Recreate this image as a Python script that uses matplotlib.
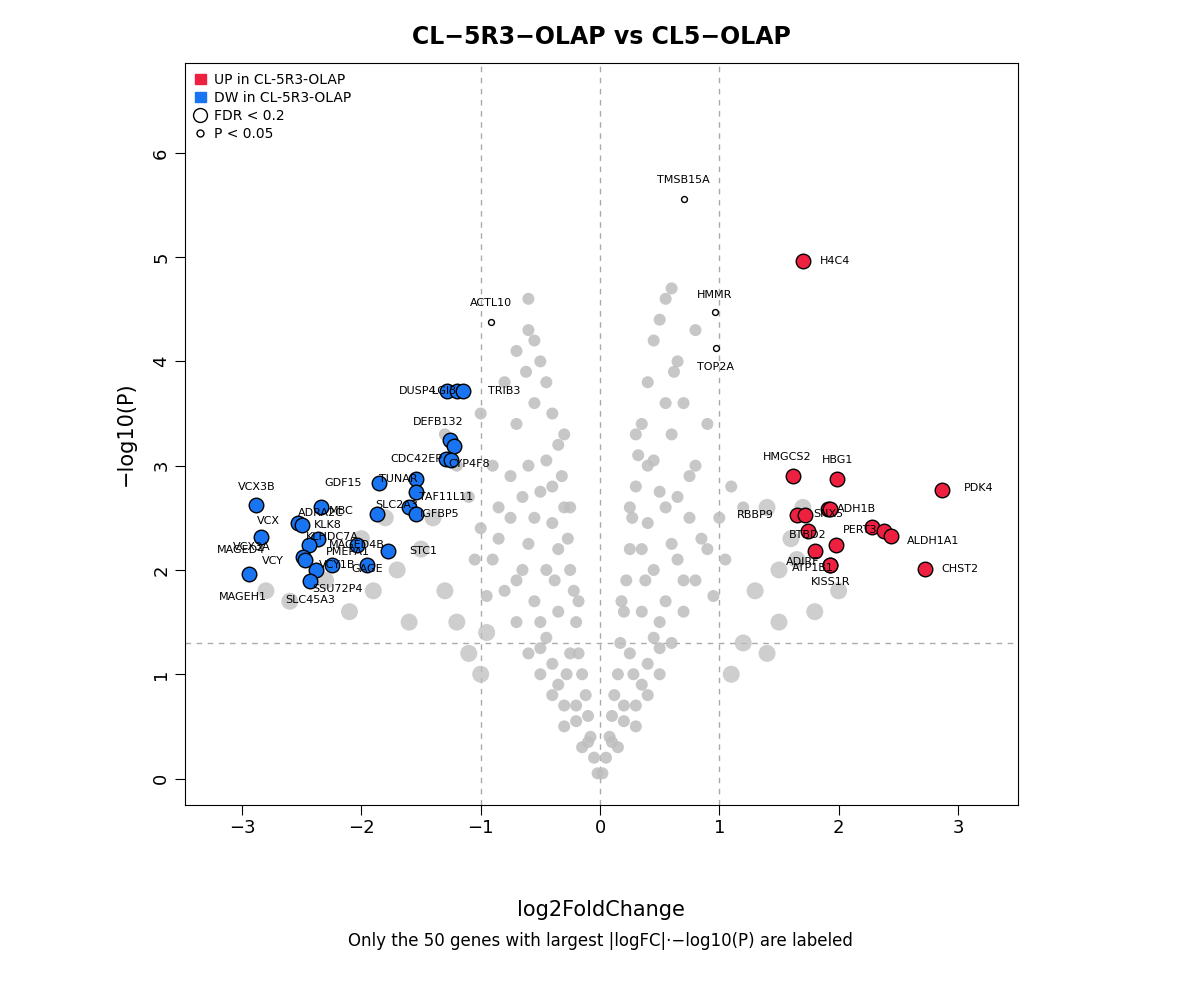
import matplotlib.pyplot as plt
from matplotlib.lines import Line2D
from matplotlib.patches import Patch

# grey (not significant) genes
grey_x = [-0.02, -0.05, -0.08, -0.1, -0.12, -0.15, -0.18, -0.2, -0.22, -0.25, -0.27, -0.3, -0.32, -0.35,
          -0.4, -0.45, -0.55, -0.6, -0.6, -0.5, -0.3, -0.4, -0.5, -0.6, -0.7, -0.8, -0.9, -1.0, -1.1, -1.2,
          -1.3, -0.9, -0.7, -0.55, -0.45, -0.35, -0.25, -0.5, -0.65, -0.75, -0.85, -0.4, -0.6, -0.8, -1.0,
          -0.7, -0.15, -0.35, -0.2,
          -0.1, -0.2, -0.3, -0.4, -0.45, -0.55, -0.35, -0.25, -0.4, -0.5, -0.6, -0.7, -0.3, -0.45, -0.65,
          -0.55, -0.75, -0.85, -0.95, -1.05, -0.5, -0.38, -0.28, -0.18, -0.62,
          0.02, 0.05, 0.08, 0.1, 0.12, 0.15, 0.17, 0.2, 0.22, 0.25, 0.27, 0.3, 0.32, 0.35, 0.4, 0.45, 0.55,
          0.6, 0.5, 0.3, 0.4, 0.5, 0.6, 0.7, 0.8, 0.9, 1.0, 1.1, 1.2, 0.8, 0.7, 0.55, 0.45, 0.35, 0.25, 0.5,
          0.65, 0.75, 0.4, 0.6, 0.9, 0.65, 0.15, 0.35, 0.2, 0.8,
          0.1, 0.2, 0.3, 0.4, 0.45, 0.55, 0.35, 0.25, 0.4, 0.5, 0.6, 0.7, 0.3, 0.45, 0.65,
          0.55, 0.75, 0.85, 0.95, 1.05, 0.5, 0.38, 0.28, 0.18, 0.62]
grey_y = [0.05, 0.2, 0.4, 0.6, 0.8, 1.0, 1.2, 1.5, 1.8, 2.0, 2.3, 2.6, 2.9, 3.2, 3.5, 3.8, 4.2, 4.6, 4.3,
          4.0, 0.5, 0.8, 1.0, 1.2, 1.5, 1.8, 2.1, 2.4, 2.7, 3.0, 3.3, 3.0, 3.4, 2.5, 2.0, 1.6, 1.2, 1.5, 2.0,
          2.5, 2.6, 2.8, 3.0, 3.8, 3.5, 4.1, 0.3, 0.9, 0.7,
          0.35, 0.55, 0.7, 1.1, 1.35, 1.7, 2.2, 2.6, 2.45, 2.75, 2.25, 1.9, 3.3, 3.05, 2.7,
          3.6, 2.9, 2.3, 1.75, 2.1, 1.25, 1.9, 1.0, 1.7, 3.9,
          0.05, 0.2, 0.4, 0.6, 0.8, 1.0, 1.3, 1.6, 1.9, 2.2, 2.5, 2.8, 3.1, 3.4, 3.8, 4.2, 4.6, 4.7, 4.4,
          0.5, 0.8, 1.0, 1.3, 1.6, 1.9, 2.2, 2.5, 2.8, 2.6, 3.0, 3.6, 2.6, 2.0, 1.6, 1.2, 1.5, 2.1, 2.5,
          3.0, 3.3, 3.4, 4.0, 0.3, 0.9, 0.7, 4.3,
          0.35, 0.55, 0.7, 1.1, 1.35, 1.7, 2.2, 2.6, 2.45, 2.75, 2.25, 1.9, 3.3, 3.05, 2.7,
          3.6, 2.9, 2.3, 1.75, 2.1, 1.25, 1.9, 1.0, 1.7, 3.9]
big_grey_x = [-1.5, -1.7, -1.9, -2.1, -1.3, -1.6, -2.3, -2.6, -1.4, -2.0, -1.2, -1.1, -1.8, -2.8, -1.0, -0.95,
              1.3, 1.5, 1.6, 1.4, 1.8, 1.2, 1.1, 1.7, 1.5, 2.0, 1.4, 1.65]
big_grey_y = [2.2, 2.0, 1.8, 1.6, 1.8, 1.5, 1.9, 1.7, 2.5, 2.3, 1.5, 1.2, 2.5, 1.8, 1.0, 1.4,
              1.8, 2.0, 2.3, 2.6, 1.6, 1.3, 1.0, 2.6, 1.5, 1.8, 1.2, 2.1]

# down-regulated, FDR < 0.2
dw_genes = ["DUSP4", "LGI3", "TRIB3", "DEFB132", "", "CDC42EP", "CYP4F8", "TUNAR", "TAF11L11", "GDF15",
            "ADRA2C", "MBC", "SLC2A3", "IGFBP5", "VCX3B", "VCX", "KLK8", "MAGED4", "PMEPA1", "KLHDC7A",
            "MAGED4B", "STC1", "VCY", "VCX3A", "VCY1B", "", "GAGE", "MAGEH1", "SLC45A3"]
dw_x = [-1.28, -1.20, -1.15, -1.26, -1.22, -1.29, -1.25, -1.54, -1.54, -1.85,
        -2.34, -1.87, -1.60, -1.54, -2.88, -2.53, -2.50, -2.84, -2.36, -2.44,
        -2.04, -1.78, -2.49, -2.47, -2.25, -2.38, -1.95, -2.94, -2.43]
dw_y = [3.72, 3.72, 3.72, 3.25, 3.19, 3.06, 3.05, 2.87, 2.75, 2.83,
        2.60, 2.54, 2.60, 2.54, 2.62, 2.45, 2.43, 2.32, 2.30, 2.24,
        2.24, 2.18, 2.12, 2.10, 2.05, 2.00, 2.05, 1.96, 1.89]

# up-regulated, FDR < 0.2
up_genes = ["H4C4", "HMGCS2", "HBG1", "PDK4", "RBBP9", "", "SNX5", "ADH1B", "BTBD2", "PERT3", "",
            "ALDH1A1", "", "ADIRF", "ATP1B1", "KISS1R", "CHST2"]
up_x = [1.70, 1.62, 1.99, 2.87, 1.65, 1.72, 1.91, 1.93, 1.74, 2.28, 2.38, 2.44, 1.98, 1.80, 1.93, 1.93, 2.72]
up_y = [4.96, 2.90, 2.87, 2.77, 2.53, 2.53, 2.58, 2.58, 2.37, 2.41, 2.37, 2.33, 2.24, 2.18, 2.05, 2.05, 2.01]

# P < 0.05 only
p_genes = ["TMSB15A", "ACTL10", "HMMR", "TOP2A"]
p_x = [0.70, -0.91, 0.96, 0.97]
p_y = [5.56, 4.38, 4.47, 4.13]

# label offsets (in data units) keep the R-style placement
dw_off = {"DUSP4": (-0.25, 0), "LGI3": (-0.1, 0), "TRIB3": (0.35, 0), "DEFB132": (-0.1, 0.17),
          "CDC42EP": (-0.25, 0), "CYP4F8": (0.15, -0.03), "TUNAR": (-0.15, 0.0), "TAF11L11": (0.25, -0.05),
          "GDF15": (-0.3, 0), "ADRA2C": (0.0, -0.05), "MBC": (-0.3, 0.03), "SLC2A3": (-0.1, 0.02),
          "IGFBP5": (0.2, 0.0), "VCX3B": (0.0, 0.18), "VCX": (-0.25, 0.02), "KLK8": (0.22, 0.0),
          "MAGED4": (-0.17, -0.13), "PMEPA1": (0.25, -0.13), "KLHDC7A": (0.2, 0.08), "MAGED4B": (0.0, 0.0),
          "STC1": (0.3, 0), "VCY": (-0.25, -0.03), "VCX3A": (-0.45, 0.12), "VCY1B": (0.05, 0.0),
          "GAGE": (0.0, -0.04), "MAGEH1": (-0.05, -0.22), "SLC45A3": (0.0, -0.18)}
up_off = {"H4C4": (0.27, 0), "HMGCS2": (-0.05, 0.18), "HBG1": (0.0, 0.18), "PDK4": (0.3, 0.02),
          "RBBP9": (-0.35, 0), "SNX5": (0.0, -0.04), "ADH1B": (0.22, 0.0), "BTBD2": (0.0, -0.03),
          "PERT3": (-0.1, -0.03), "ALDH1A1": (0.35, -0.05), "ADIRF": (-0.1, -0.1), "ATP1B1": (-0.15, -0.03),
          "KISS1R": (0.0, -0.17), "CHST2": (0.3, 0)}
p_off = {"TMSB15A": (0.0, 0.18), "ACTL10": (0.0, 0.18), "HMMR": (0.0, 0.17), "TOP2A": (0.0, -0.18)}

fig, ax = plt.subplots(figsize=(12, 10.02), dpi=100)
fig.subplots_adjust(left=0.154, right=0.848, top=0.937, bottom=0.197)

ax.scatter(big_grey_x, big_grey_y, s=150, color="#bebebe", alpha=0.75, edgecolors="none", zorder=1)
ax.scatter(grey_x, grey_y, s=75, color="#bebebe", alpha=0.85, edgecolors="none", zorder=1)

for v in (-1, 0, 1):
    ax.axvline(v, color="#aaaaaa", ls=(0, (4, 4)), lw=1, zorder=0)
ax.axhline(1.3, color="#aaaaaa", ls=(0, (4, 4)), lw=1, zorder=0)

ax.scatter(dw_x, dw_y, s=110, color="#1874f0", edgecolors="black", linewidths=1, zorder=3)
ax.scatter(up_x, up_y, s=110, color="#ee2040", edgecolors="black", linewidths=1, zorder=3)
ax.scatter(p_x, p_y, s=18, facecolors="white", edgecolors="black", linewidths=1, zorder=3)

for names, xs, ys, off in ((dw_genes, dw_x, dw_y, dw_off), (up_genes, up_x, up_y, up_off),
                           (p_genes, p_x, p_y, p_off)):
    for g, x, y in zip(names, xs, ys):
        if not g or g not in off:
            continue
        dx, dy = off[g]
        ax.text(x + dx, y + dy, g, fontsize=8, ha="center", va="center", zorder=4)
ax.text(-2.2, 1.82, "SSU72P4", fontsize=8, ha="center", va="center", zorder=4)

ax.set_xlim(-3.48, 3.5)
ax.set_ylim(-0.25, 6.86)
ax.set_xticks([-3, -2, -1, 0, 1, 2, 3])
ax.set_yticks([0, 1, 2, 3, 4, 5, 6])
ax.set_xticklabels(["\u22123", "\u22122", "\u22121", "0", "1", "2", "3"])
ax.tick_params(labelsize=13, length=7)
for lab in ax.get_yticklabels():
    lab.set_rotation(90)
    lab.set_va("center")
ax.set_xlabel("log2FoldChange", fontsize=15, labelpad=45)
ax.set_ylabel("\u2212log10(P)", fontsize=15, labelpad=12)
ax.set_title("CL\u22125R3\u2212OLAP vs CL5\u2212OLAP", fontsize=17, fontweight="bold", pad=14)
fig.text(0.5, 0.056, "Only the 50 genes with largest |logFC|\u00b7\u2212log10(P) are labeled",
         ha="center", fontsize=12)

handles = [Patch(color="#ee2040", label="UP in CL-5R3-OLAP"),
           Patch(color="#1874f0", label="DW in CL-5R3-OLAP"),
           Line2D([], [], marker="o", ls="", ms=10, mfc="white", mec="black", label="FDR < 0.2"),
           Line2D([], [], marker="o", ls="", ms=5, mfc="white", mec="black", label="P < 0.05")]
ax.legend(handles=handles, loc="upper left", frameon=False, fontsize=10, handlelength=0.8,
          handletextpad=0.6, labelspacing=0.3, borderaxespad=0.3)

fig.savefig("out.png", dpi=100)
